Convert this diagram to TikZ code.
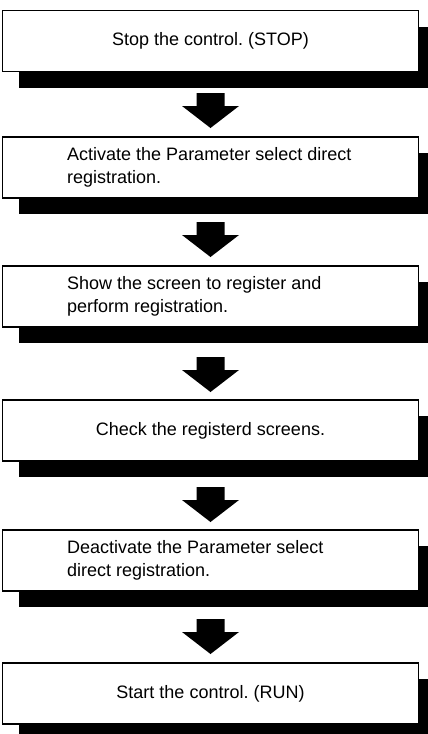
\documentclass[tikz,border=0pt]{standalone}
\usepackage{fontspec}
\setmainfont{Liberation Sans}
\usetikzlibrary{calc,shadows}
\frenchspacing
\tikzset{
  stepbox/.style={draw=black, line width=1.3pt, fill=white, minimum width=416pt, minimum height=61pt,
    inner sep=0pt, outer sep=0pt, font=\fontsize{18}{22.7}\selectfont,
    drop shadow={shadow xshift=16pt, shadow yshift=-16pt, fill=black, opacity=1}},
  steptext/.style={inner sep=0pt, anchor=west, align=left, font=\fontsize{18}{22.7}\selectfont},
  fatarrow/.style={fill=black}
}
\newcommand\fatarr[1]{%
  \fill[fatarrow] (#1) -- ($(#1)+(-28.5,-22)$) -- ($(#1)+(-14,-22)$) -- ($(#1)+(-14,-35)$)
    -- ($(#1)+(14,-35)$) -- ($(#1)+(14,-22)$) -- ($(#1)+(28.5,-22)$) -- cycle;}
\begin{document}
\begin{tikzpicture}[x=1pt,y=-1pt]
\useasboundingbox (0,0) rectangle (428,734);
\node[stepbox] (b1) at (210.5,41) {Stop the control. (STOP)};
\node[stepbox] (b2) at (210.5,167.5) {};
\node[steptext] (t2) at (67,167.5) {Activate the Parameter select direct\\registration.};
\node[stepbox] (b3) at (210.5,296.5) {};
\node[steptext] (t3) at (67,296.5) {Show the screen to register and\\perform registration.};
\node[stepbox] (b4) at (210.5,430.5) {Check the registerd screens.};
\node[stepbox] (b5) at (210.5,560.5) {};
\node[steptext] (t5) at (67,560.5) {Deactivate the Parameter select\\direct registration.};
\node[stepbox] (b6) at (210.5,693.5) {Start the control. (RUN)};
\coordinate (a1) at ($(b2.north)+(0,-9)$);
\coordinate (a2) at ($(b3.north)+(0,-9)$);
\coordinate (a3) at ($(b4.north)+(0,-8)$);
\coordinate (a4) at ($(b5.north)+(0,-8)$);
\coordinate (a5) at ($(b6.north)+(0,-9)$);
\fatarr{a1}
\fatarr{a2}
\fatarr{a3}
\fatarr{a4}
\fatarr{a5}
\end{tikzpicture}
\end{document}
